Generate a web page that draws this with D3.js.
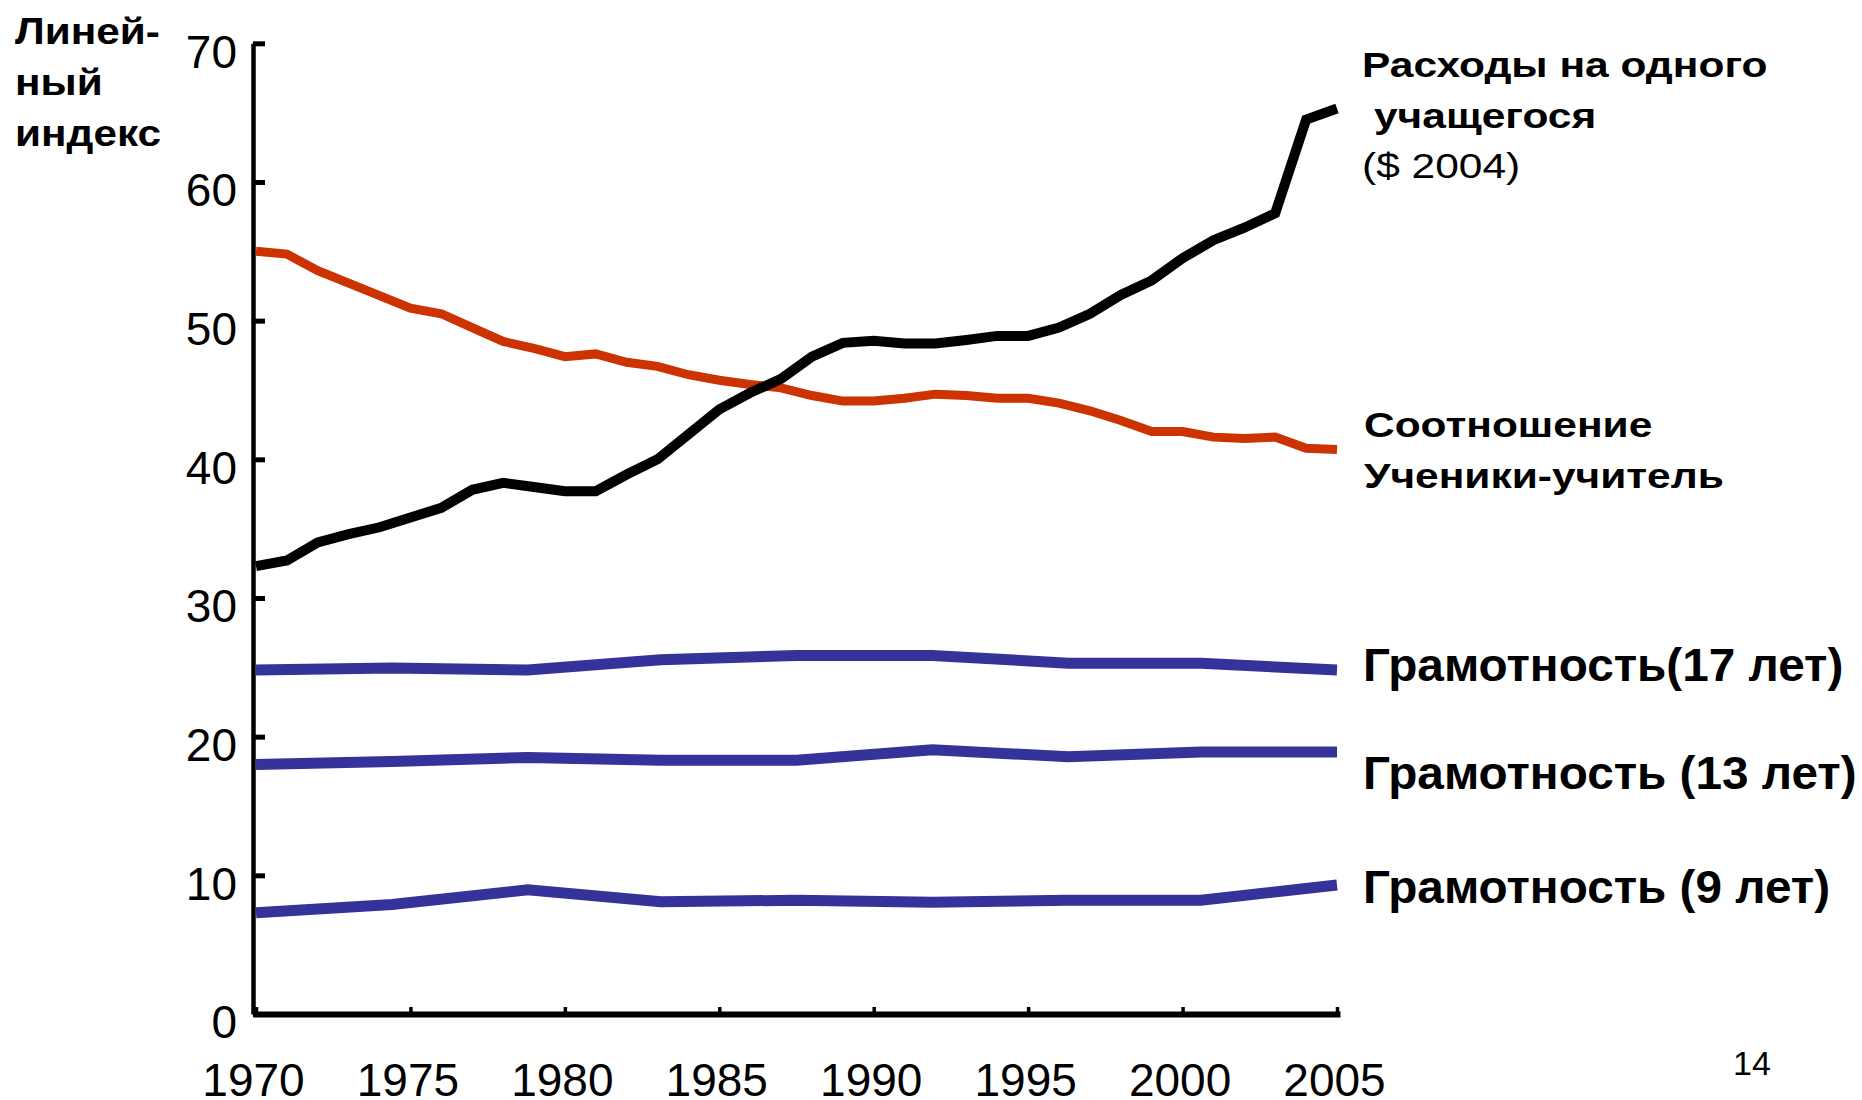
<!DOCTYPE html>
<html>
<head>
<meta charset="utf-8">
<script src="https://cdn.jsdelivr.net/npm/d3@7"></script>
<style>
body { margin: 0; background: #fff; }
svg text { font-family: "Liberation Sans", Arial, sans-serif; fill: #000; }
</style>
</head>
<body>
<svg id="chart" width="1862" height="1100"></svg>
<script>
// DATA
const years = [1970, 1971, 1972, 1973, 1974, 1975, 1976, 1977, 1978, 1979,
               1980, 1981, 1982, 1983, 1984, 1985, 1986, 1987, 1988, 1989,
               1990, 1991, 1992, 1993, 1994, 1995, 1996, 1997, 1998, 1999,
               2000, 2001, 2002, 2003, 2004, 2005];
// spending per pupil ($ 2004), indexed
const spending = [32.3, 32.7, 34.0, 34.6, 35.1, 35.8, 36.5, 37.8, 38.3, 38.0,
                  37.7, 37.7, 38.9, 40.0, 41.8, 43.6, 44.8, 45.8, 47.4, 48.4,
                  48.55, 48.35, 48.35, 48.6, 48.9, 48.9, 49.5, 50.5, 51.85, 52.9,
                  54.5, 55.8, 56.7, 57.75, 64.5, 65.3];
// pupil-teacher ratio
const pupilRatio = [55.0, 54.8, 53.6, 52.7, 51.8, 50.9, 50.5, 49.5, 48.5, 48.0,
                    47.4, 47.6, 47.0, 46.7, 46.1, 45.7, 45.4, 45.15, 44.6, 44.2,
                    44.2, 44.4, 44.7, 44.6, 44.4, 44.4, 44.05, 43.5, 42.8, 42.0,
                    42.0, 41.6, 41.5, 41.6, 40.8, 40.7];
// literacy test rounds
const testYears = [1970, 1974.4, 1978.8, 1983.1, 1987.5, 1991.9, 1996.3, 2000.6, 2005];
const read17 = [24.8, 24.95, 24.8, 25.55, 25.85, 25.85, 25.3, 25.3, 24.8];
const read13 = [18.0, 18.2, 18.5, 18.3, 18.3, 19.05, 18.55, 18.9, 18.9];
const read9 = [7.3, 7.9, 8.95, 8.1, 8.2, 8.05, 8.2, 8.2, 9.3];

const yTicks = [0, 10, 20, 30, 40, 50, 60, 70];
const xTicks = [1970, 1975, 1980, 1985, 1990, 1995, 2000, 2005];

const yTitle = ["Линей-", "ный", "индекс"];

// CHART
const svg = d3.select("#chart");
svg.append("rect").attr("width", 1862).attr("height", 1100).attr("fill", "#fff");

const x = d3.scaleLinear().domain([1970, 2005]).range([256, 1337]);
const y = d3.scaleLinear().domain([0, 70]).range([1014, 43.3]);

// y axis, ticks point into the plot
const yAxis = svg.append("g")
    .attr("transform", "translate(253,0)")
    .call(d3.axisLeft(y).tickValues(yTicks).tickSizeInner(-12).tickSizeOuter(0).tickPadding(16));
yAxis.select(".domain").attr("stroke", "#000").attr("stroke-width", 4.5);
yAxis.selectAll(".tick line").attr("stroke", "#000").attr("stroke-width", 5);
yAxis.selectAll(".tick text")
    .attr("dy", "0.52em")
    .style("font-size", "46px");

// x axis, ticks point up
const xAxis = svg.append("g")
    .attr("transform", "translate(0,1014)")
    .call(d3.axisBottom(x).tickValues(xTicks).tickFormat(d3.format("d"))
        .tickSizeInner(-7).tickSizeOuter(0).tickPadding(49));
xAxis.select(".domain").attr("stroke", "#000").attr("stroke-width", 6).attr("stroke-linecap", "square");
xAxis.selectAll(".tick line").attr("stroke", "#000").attr("stroke-width", 3.5);
xAxis.selectAll(".tick text")
    .attr("dy", "0.71em")
    .attr("dx", -3)
    .style("font-size", "46px");

// lines
const line = d3.line().x(d => x(d[0])).y(d => y(d[1]));

const series = [
    {xs: testYears, ys: read9, color: "#333399", width: 11},
    {xs: testYears, ys: read13, color: "#333399", width: 11},
    {xs: testYears, ys: read17, color: "#333399", width: 11},
    {xs: years, ys: pupilRatio, color: "#CC3300", width: 9},
    {xs: years, ys: spending, color: "#000000", width: 10},
];

svg.append("g").selectAll("path")
    .data(series)
    .join("path")
    .attr("d", s => line(s.xs.map((v, i) => [v, s.ys[i]])))
    .attr("fill", "none")
    .attr("stroke", s => s.color)
    .attr("stroke-width", s => s.width)
    .attr("stroke-linejoin", "miter")
    .attr("stroke-miterlimit", 4)
    .attr("stroke-linecap", "butt");

// y title (wide text, stretched horizontally)
svg.append("g").selectAll("text")
    .data(yTitle)
    .join("text")
    .attr("transform", (d, i) => `translate(15,${43.5 + i * 51}) scale(1.16,1)`)
    .style("font-size", "36.5px")
    .style("font-weight", "bold")
    .text(d => d);

// series labels
const labels = [
    {t: "Расходы на одного", x: 1362, y: 77, size: 36, sx: 1.18, bold: true},
    {t: "учащегося", x: 1374, y: 128, size: 36, sx: 1.18, bold: true},
    {t: "($ 2004)", x: 1362, y: 178, size: 36, sx: 1.18, bold: false},
    {t: "Соотношение", x: 1364, y: 437, size: 36, sx: 1.18, bold: true},
    {t: "Ученики-учитель", x: 1364, y: 488, size: 36, sx: 1.18, bold: true},
    {t: "Грамотность(17 лет)", x: 1363, y: 681, size: 47, sx: 1.015, bold: true},
    {t: "Грамотность (13 лет)", x: 1363, y: 789, size: 47, sx: 1.015, bold: true},
    {t: "Грамотность (9 лет)", x: 1363, y: 903, size: 47, sx: 1.015, bold: true},
    {t: "14", x: 1733, y: 1075, size: 34, sx: 1, bold: false}
];
svg.append("g").selectAll("text")
    .data(labels)
    .join("text")
    .attr("transform", d => `translate(${d.x},${d.y}) scale(${d.sx},1)`)
    .style("font-size", d => d.size + "px")
    .style("font-weight", d => d.bold ? "bold" : "normal")
    .text(d => d.t);
</script>
</body>
</html>
